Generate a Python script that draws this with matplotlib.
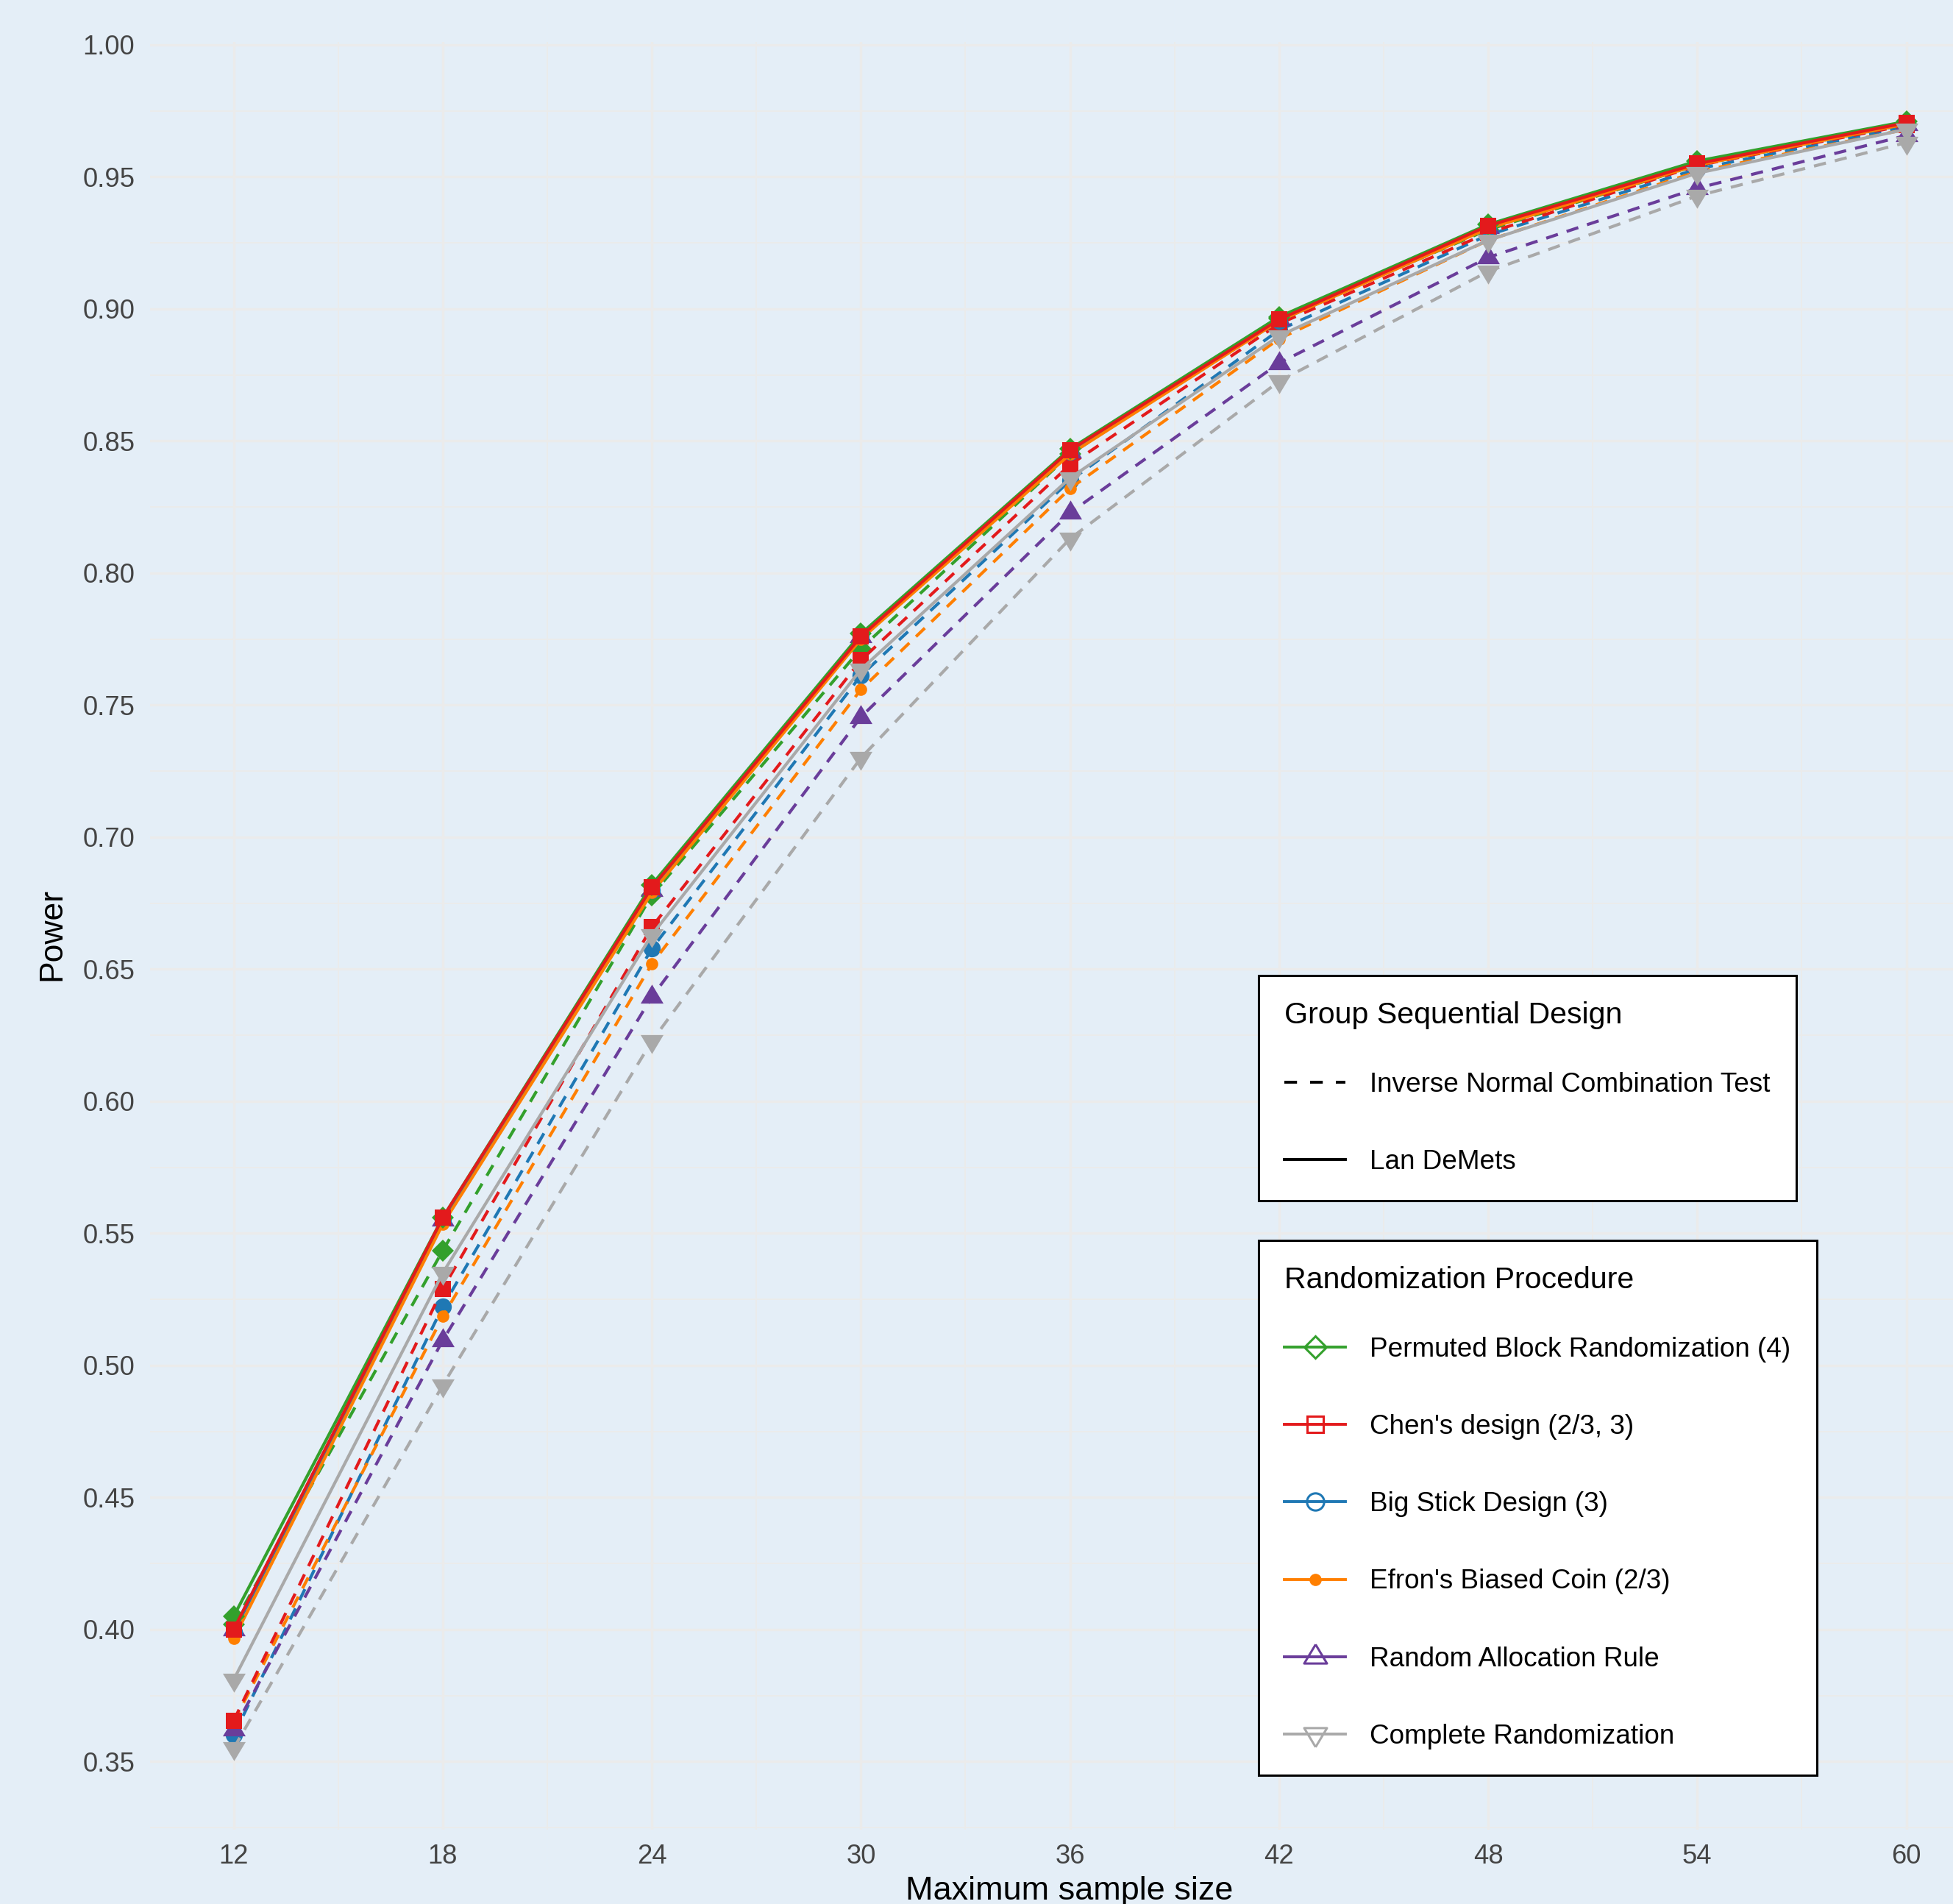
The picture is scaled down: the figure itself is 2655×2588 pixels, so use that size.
import numpy as np
import matplotlib
matplotlib.use('Agg')
import matplotlib.pyplot as plt
from matplotlib.lines import Line2D
from matplotlib.ticker import MultipleLocator, FormatStrFormatter

plt.rcParams['font.family'] = ['Liberation Sans', 'DejaVu Sans']
plt.rcParams['lines.scale_dashes'] = False

# data
sample_sizes = [12, 18, 24, 30, 36, 42, 48, 54, 60]

procedures = ['Permuted Block Randomization (4)', "Chen's design (2/3, 3)", 'Big Stick Design (3)',
              "Efron's Biased Coin (2/3)", 'Random Allocation Rule', 'Complete Randomization']
designs = ['Inverse Normal Combination Test', 'Lan DeMets']

# Lan DeMets (solid lines)
ld_pbr = [0.405, 0.556, 0.682, 0.777, 0.847, 0.897, 0.932, 0.956, 0.971]
ld_chen = [0.400, 0.556, 0.681, 0.776, 0.8465, 0.896, 0.9315, 0.955, 0.9705]
ld_bsd = [0.399, 0.555, 0.680, 0.776, 0.846, 0.8955, 0.931, 0.955, 0.970]
ld_efron = [0.3965, 0.5535, 0.679, 0.775, 0.845, 0.8955, 0.9305, 0.9545, 0.970]
ld_rar = [0.400, 0.555, 0.680, 0.776, 0.846, 0.896, 0.931, 0.955, 0.970]
ld_cr = [0.381, 0.535, 0.663, 0.7635, 0.836, 0.8898, 0.926, 0.9514, 0.968]

# Inverse normal combination test (dashed lines)
inc_pbr = [0.402, 0.5435, 0.678, 0.7714, 0.845, 0.8965, 0.930, 0.9545, 0.970]
inc_chen = [0.3655, 0.529, 0.666, 0.767, 0.841, 0.8944, 0.9288, 0.9543, 0.9696]
inc_bsd = [0.360, 0.5223, 0.6578, 0.7612, 0.835, 0.892, 0.928, 0.953, 0.969]
inc_efron = [0.365, 0.5185, 0.652, 0.7559, 0.832, 0.8887, 0.926, 0.952, 0.968]
inc_rar = [0.362, 0.5095, 0.6395, 0.7455, 0.8228, 0.8795, 0.9195, 0.9457, 0.9657]
inc_cr = [0.355, 0.4925, 0.6228, 0.730, 0.813, 0.8726, 0.9142, 0.9428, 0.963]

colors = ['#33a02c', '#e31a1c', '#1f78b4', '#ff7f00', '#6a3d9a', '#a9a9a9']
tri_up = [(0, 1), (-0.9, -0.5), (0.9, -0.5), (0, 1)]
tri_down = [(0, -1), (-0.9, 0.5), (0.9, 0.5), (0, -1)]
markers = ['D', 's', 'o', 'o', tri_up, tri_down]
msizes = [7.4, 8.2, 8.4, 6.0, 12.4, 12.4]
hollow = [True, True, True, False, True, True]

bg = '#e4eef7'
grid_col = '#ebebeb'
dash = (0, (6, 4.5))

fig = plt.figure(figsize=(13.275, 12.94), dpi=200, facecolor=bg)
ax = fig.add_axes([204 / 2655, 1 - 2487 / 2588, (2655 - 204) / 2655, (2487 - 57) / 2588])
ax.set_facecolor(bg)

inc_vals = [inc_pbr, inc_chen, inc_bsd, inc_efron, inc_rar, inc_cr]
ld_vals = [ld_pbr, ld_chen, ld_bsd, ld_efron, ld_rar, ld_cr]

# dashed first, solid on top; order chosen so the overlaps look like the original
for i in [2, 3, 4, 0, 1, 5]:
    ax.plot(sample_sizes, inc_vals[i], color=colors[i], lw=1.5, linestyle=dash,
            marker=markers[i], markersize=msizes[i], markeredgewidth=0, zorder=3)
for i in [4, 2, 3, 0, 1, 5]:
    ax.plot(sample_sizes, ld_vals[i], color=colors[i], lw=1.5, linestyle='-',
            marker=markers[i], markersize=msizes[i], markeredgewidth=0, zorder=4)

ax.set_xlim(9.6, 61.34)
ax.set_ylim(0.3242, 1.0011)
ax.xaxis.set_major_locator(MultipleLocator(6))
ax.xaxis.set_minor_locator(MultipleLocator(3))
ax.yaxis.set_major_locator(MultipleLocator(0.05))
ax.yaxis.set_minor_locator(MultipleLocator(0.025))
ax.yaxis.set_major_formatter(FormatStrFormatter('%.2f'))
ax.grid(which='major', color=grid_col, lw=1.2, zorder=0)
ax.grid(which='minor', color=grid_col, lw=0.7, zorder=0)
ax.set_axisbelow(True)
for s in ax.spines.values():
    s.set_visible(False)
ax.tick_params(which='both', length=0, labelsize=13.1, labelcolor='#444444')
ax.tick_params(axis='y', pad=7.5)
ax.tick_params(axis='x', pad=7)

ax.set_xlabel('Maximum sample size', fontsize=16.2)
ax.set_ylabel('Power', fontsize=16)
ax.yaxis.get_label().set_va('center')
ax.xaxis.get_label().set_va('center')
ax.xaxis.set_label_coords(0.51, -0.0345)
ax.yaxis.set_label_coords(-0.0543, 0.5008)

leg_kw = dict(loc='upper left', borderaxespad=0, fontsize=13.3, title_fontsize=14.8,
              alignment='left', frameon=True, fancybox=False, framealpha=1,
              borderpad=0.95, labelspacing=1.9, handlelength=2.25, handletextpad=0.9)
title_sep = 20.8  # points between legend title and first entry

design_handles = [Line2D([], [], color='black', lw=1.4, linestyle=(0, (6.2, 6.4))),
                  Line2D([], [], color='black', lw=1.4, linestyle='-')]
leg1 = ax.legend(design_handles, designs, title='Group Sequential Design',
                 bbox_to_anchor=((1711 - 204) / 2451, (2487 - 1326) / 2430), **leg_kw)
leg1._legend_box.sep = title_sep
leg1.get_frame().set_edgecolor('black')
leg1.get_frame().set_linewidth(1.1)
ax.add_artist(leg1)

proc_handles = []
for i in range(6):
    proc_handles.append(Line2D([], [], color=colors[i], lw=1.4, marker=markers[i], markersize=msizes[i],
                               markerfacecolor='none' if hollow[i] else colors[i],
                               markeredgewidth=1.1 if hollow[i] else 0))
leg2 = ax.legend(proc_handles, procedures, title='Randomization Procedure',
                 bbox_to_anchor=((1711 - 204) / 2451, (2487 - 1686) / 2430), **leg_kw)
leg2._legend_box.sep = title_sep
leg2.get_frame().set_edgecolor('black')
leg2.get_frame().set_linewidth(1.1)

plt.savefig('out.png', dpi=200, facecolor=bg)
